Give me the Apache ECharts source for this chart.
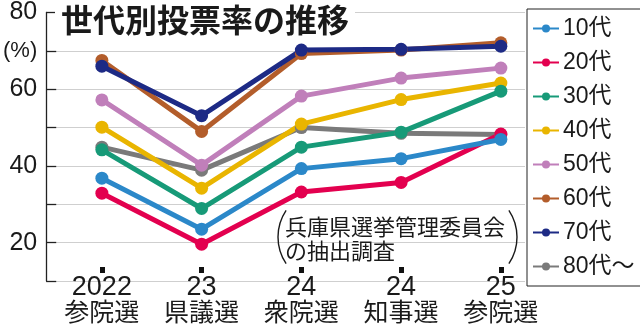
<!DOCTYPE html>
<html>
<head>
<meta charset="utf-8">
<script src="https://cdn.jsdelivr.net/npm/echarts@6/dist/echarts.min.js"></script>
<style>
html,body{margin:0;padding:0;background:#fff;}
#c{width:640px;height:331px;}
</style>
</head>
<body>
<div id="c"></div>
<script>
// ---- data ----
var categoryYears = ['2022', '23', '24', '24', '25'];
var categoryNames = ['参院選', '県議選', '衆院選', '知事選', '参院選'];
var seriesNames = ['10代', '20代', '30代', '40代', '50代', '60代', '70代', '80代〜'];
var v10 = [36.8, 23.5, 39.3, 41.9, 46.9];
var v20 = [32.9, 19.6, 33.2, 35.7, 48.3];
var v30 = [44.2, 28.9, 44.9, 48.8, 59.5];
var v40 = [50.1, 34.2, 50.9, 57.3, 61.6];
var v50 = [57.2, 40.2, 58.2, 62.9, 65.5];
var v60 = [67.5, 49.0, 69.3, 70.2, 72.1];
var v70 = [66.0, 53.1, 70.2, 70.4, 71.2];
var v80 = [44.9, 38.9, 50.0, 48.5, 48.2];
var yTickLabels = {80: '80', 70: '{p|(%)}', 60: '60', 40: '40', 20: '20'};

var colors = {
  '10代': '#2b88c9', '20代': '#e3004f', '30代': '#179a78', '40代': '#e9b500',
  '50代': '#c07fba', '60代': '#b35d2b', '70代': '#1d2a85', '80代〜': '#7a7a7a'
};
var valuesByName = {
  '10代': v10, '20代': v20, '30代': v30, '40代': v40,
  '50代': v50, '60代': v60, '70代': v70, '80代〜': v80
};
// drawing order (bottom to top)
var drawOrder = ['80代〜', '60代', '70代', '50代', '40代', '30代', '20代', '10代'];

var numFont = '"Liberation Sans", "Noto Sans CJK JP", sans-serif';
var cjkFont = '"Noto Sans CJK JP", sans-serif';

var series = drawOrder.map(function (name) {
  return {
    name: name,
    type: 'line',
    data: valuesByName[name].map(function (v, i) { return [i, v]; }),
    symbol: 'circle',
    symbolSize: 13,
    lineStyle: {width: 5, color: colors[name]},
    itemStyle: {color: colors[name]},
    emphasis: {disabled: true},
    animation: false
  };
});

var idx = categoryYears.map(function (c, i) { return i; });

var chart = echarts.init(document.getElementById('c'), null, {renderer: 'canvas'});
chart.setOption({
  backgroundColor: '#fff',
  animation: false,
  title: {
    text: '世代別投票率の推移',
    left: 55, top: 0,
    padding: [2, 6, 2, 6],
    backgroundColor: '#fff',
    textStyle: {fontFamily: cjkFont, fontSize: 32, fontWeight: 'bold', color: '#1a1a1a', lineHeight: 36}
  },
  legend: {
    orient: 'vertical',
    left: 527, top: 9,
    padding: [8, 12, 8, 5],
    itemGap: 11,
    itemWidth: 26, itemHeight: 10,
    borderColor: '#222', borderWidth: 1,
    backgroundColor: '#fff',
    data: seriesNames,
    textStyle: {fontFamily: numFont, fontSize: 23, color: '#1a1a1a', padding: [0, 0, 0, -1]}
  },
  grid: {left: 43, right: 115, top: 8, bottom: 50, containLabel: false},
  xAxis: {
    type: 'value', min: -0.558, max: 4.242,
    axisLine: {show: false, onZero: false},
    splitLine: {show: false},
    axisTick: {show: true, inside: true, length: 14, customValues: idx,
      lineStyle: {color: '#111', width: 5, type: [6, 8], dashOffset: 6, cap: 'butt'}},
    axisLabel: {
      customValues: idx,
      formatter: function (v) {
        var i = Math.round(v);
        return '{n|' + categoryYears[i] + '}\n{k|' + categoryNames[i] + '}';
      },
      margin: -4,
      color: '#1a1a1a',
      rich: {
        n: {fontFamily: numFont, fontSize: 27, lineHeight: 22, color: '#1a1a1a'},
        k: {fontFamily: cjkFont, fontSize: 25, lineHeight: 25, color: '#1a1a1a'}
      }
    }
  },
  yAxis: {
    type: 'value', position: 'left', min: 10, max: 80, interval: 10,
    axisLine: {show: true, onZero: false, lineStyle: {color: '#222', width: 1.3}},
    axisTick: {show: true, inside: true, length: 10, lineStyle: {color: '#222', width: 1.3}},
    splitLine: {show: true, lineStyle: {color: '#cfcfcf', width: 1}},
    axisLabel: {
      margin: 9,
      fontFamily: numFont, fontSize: 25, color: '#1a1a1a',
      formatter: function (v) { return yTickLabels[v] || ''; },
      rich: {p: {fontFamily: numFont, fontSize: 22, color: '#1a1a1a'}}
    }
  },
  graphic: [
    {type: 'text', left: 285, top: 214, z: 10,
      style: {text: '兵庫県選挙管理委員会\nの抽出調査', font: '22px ' + cjkFont, fill: '#1a1a1a', lineHeight: 24.5}},
    {type: 'arc', z: 10, shape: {cx: 326, cy: 237, r: 48, startAngle: Math.PI - 0.59, endAngle: Math.PI + 0.59},
      style: {stroke: '#1a1a1a', lineWidth: 1.4, fill: null}},
    {type: 'arc', z: 10, shape: {cx: 469, cy: 237, r: 48, startAngle: -0.59, endAngle: 0.59},
      style: {stroke: '#1a1a1a', lineWidth: 1.4, fill: null}}
  ],
  series: series
});
</script>
</body>
</html>
